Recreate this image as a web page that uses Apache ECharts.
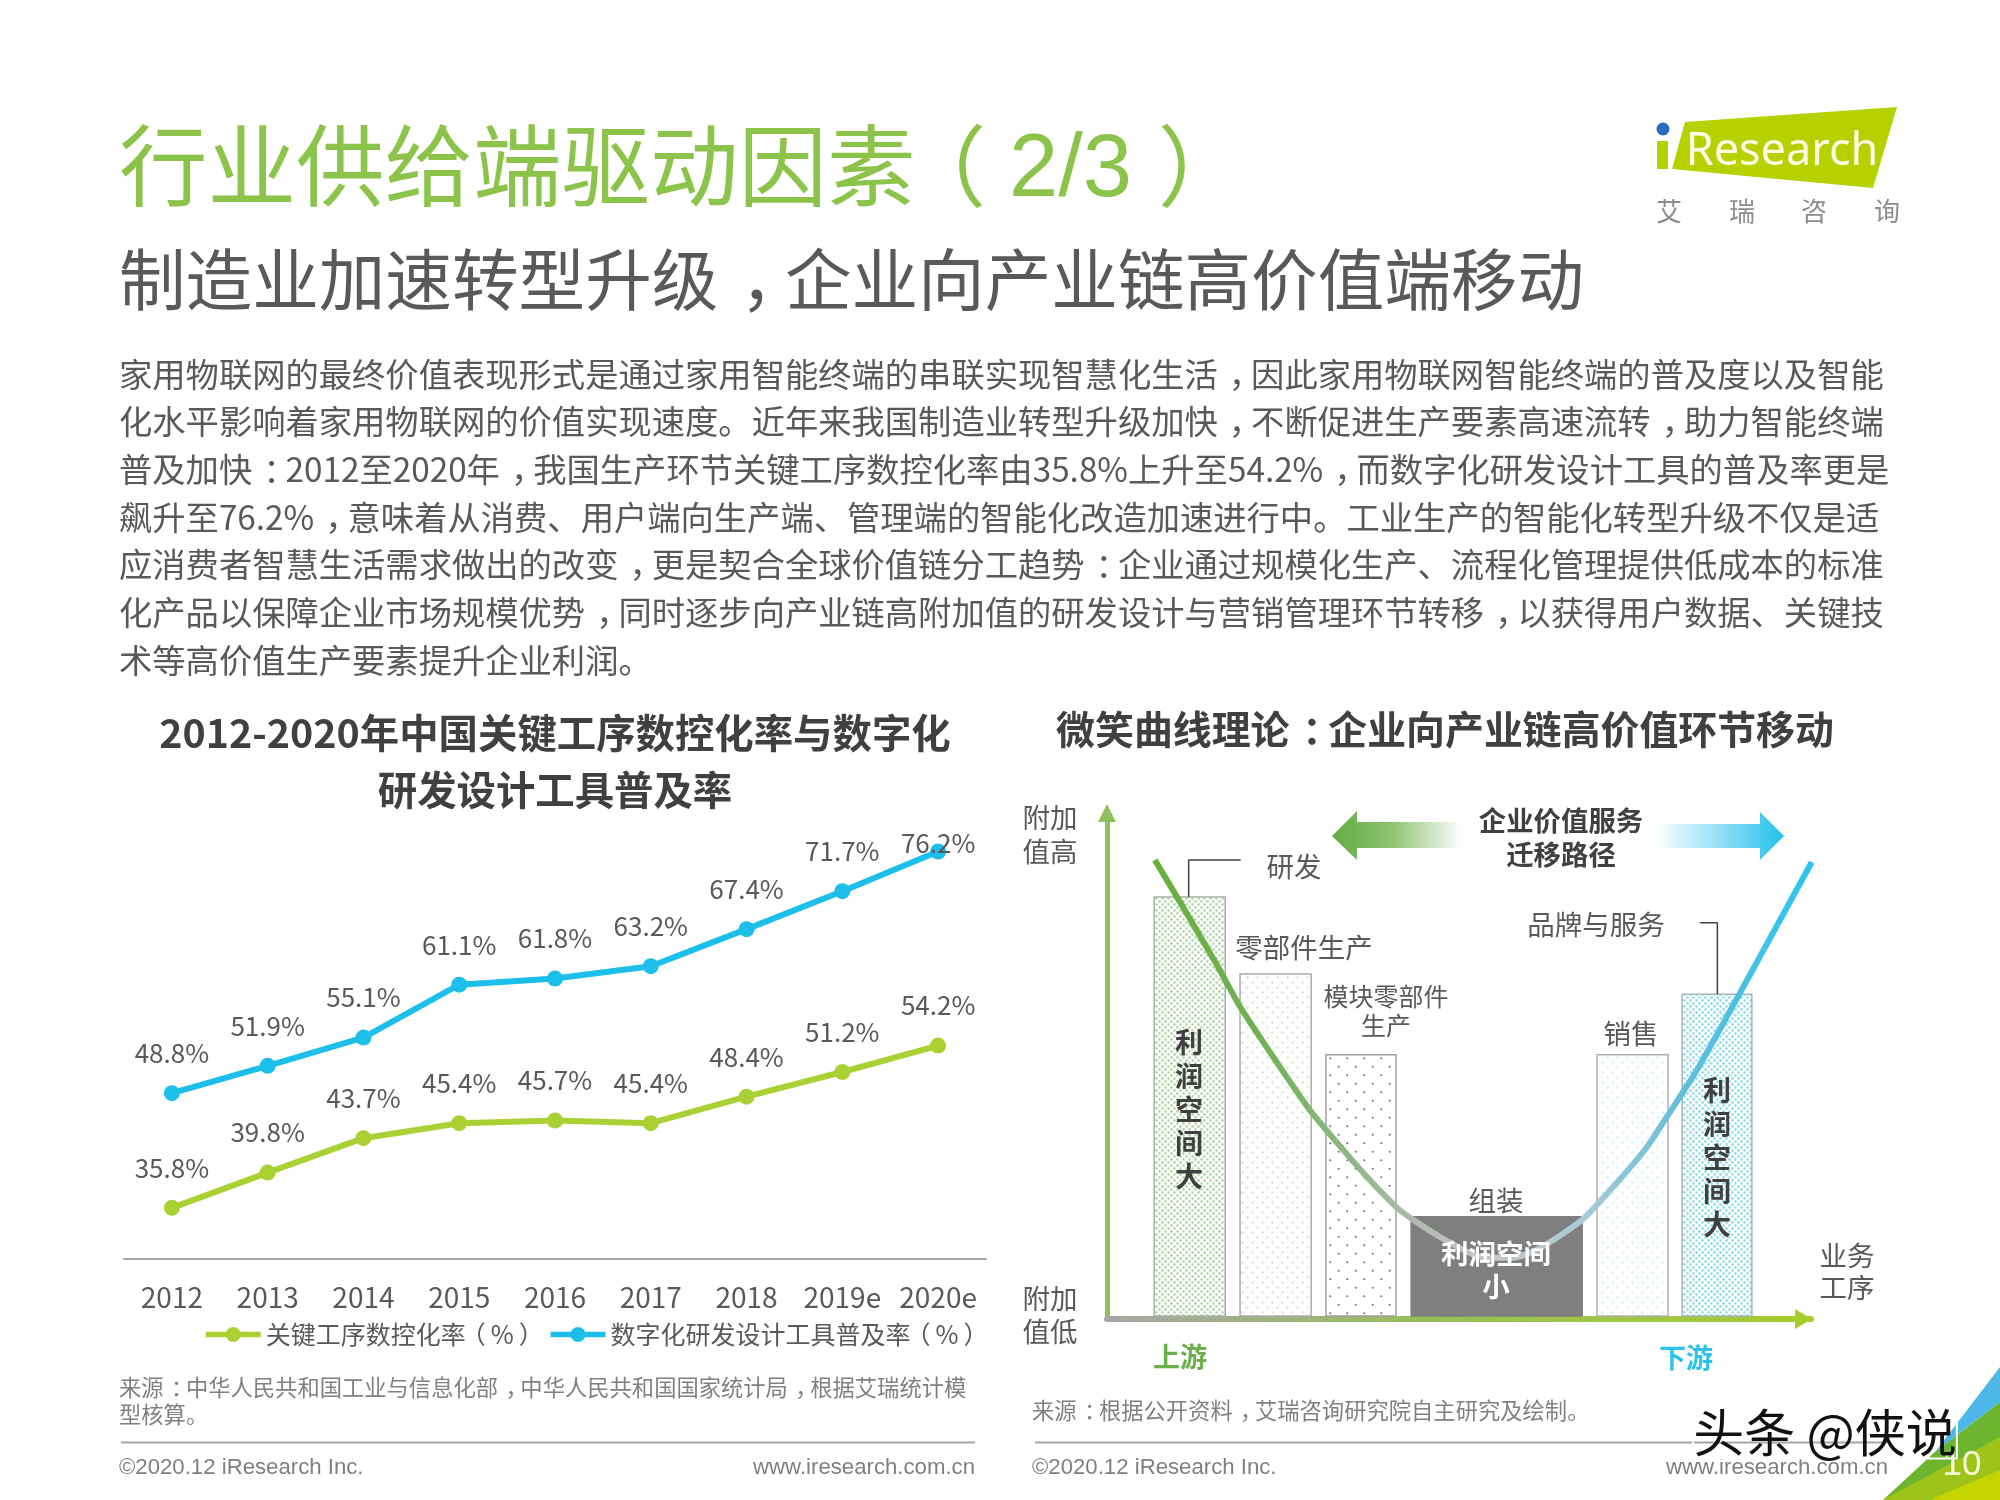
<!DOCTYPE html>
<html lang="zh-CN"><head><meta charset="utf-8"><title>行业供给端驱动因素</title>
<style>html,body{margin:0;padding:0;background:#fff}#c{width:2000px;height:1500px}</style>
<script src="https://cdn.jsdelivr.net/npm/echarts@6/dist/echarts.min.js"></script></head>
<body><div id="c"></div>
<script>
// ---- left chart data ----
const years = ['2012','2013','2014','2015','2016','2017','2018','2019e','2020e'];
const processRate = [35.8,39.8,43.7,45.4,45.7,45.4,48.4,51.2,54.2];
const designRate = [48.8,51.9,55.1,61.1,61.8,63.2,67.4,71.7,76.2];
const processName = '关键工序数控化率（%）';
const designName = '数字化研发设计工具普及率（%）';
// ---- smile curve data (index units, 0-100 on both axes) ----
const stageNames = ['研发','零部件生产','模块零部件生产','组装','销售','品牌与服务'];
const stageStart = [6.7,18.9,31.1,43.2,69.6,81.7];
const stageEnd = [16.8,29.0,41.05,67.5,79.7,91.6];
const stageValue = [83.4,68.2,52.2,20.2,52.2,64.2];
const curveX = [6.8,10.8,15.6,18.9,23.6,28.8,32.7,36.9,41.6,47.3,53.0,57.7,61.5,67.5,72.4,76.7,79.5,83.8,89.9,94.6,100.1];
const curveY = [90.7,81.4,70.0,61.7,51.8,41.3,34.8,28.1,21.5,16.2,12.3,12.1,14.0,19.6,26.9,34.0,39.9,49.2,64.4,76.3,90.3];
const leaderA = [[11.6,83.4],[11.6,90.7],[19.0,90.7]];
const leaderB = [[84.2,78.3],[86.7,78.3],[86.7,64.2]];
// ---- text ----
const bodyLines = [
'家用物联网的最终价值表现形式是通过家用智能终端的串联实现智慧化生活，因此家用物联网智能终端的普及度以及智能',
'化水平影响着家用物联网的价值实现速度。近年来我国制造业转型升级加快，不断促进生产要素高速流转，助力智能终端',
'普及加快：2012至2020年，我国生产环节关键工序数控化率由35.8%上升至54.2%，而数字化研发设计工具的普及率更是',
'飙升至76.2%，意味着从消费、用户端向生产端、管理端的智能化改造加速进行中。工业生产的智能化转型升级不仅是适',
'应消费者智慧生活需求做出的改变，更是契合全球价值链分工趋势：企业通过规模化生产、流程化管理提供低成本的标准',
'化产品以保障企业市场规模优势，同时逐步向产业链高附加值的研发设计与营销管理环节转移，以获得用户数据、关键技',
'术等高价值生产要素提升企业利润。'];

const CJK = '"Noto Sans CJK SC","Noto Sans",sans-serif';
const SANS = '"Liberation Sans",Arial,sans-serif';
const GREEN = '#A9D134', BLUE = '#1DBFEA';
// full-width punctuation sits mid-cell in the reference: keep the advance, shift the glyph
const punct = s => s.replace(/[，：]/g, m => '{p|' + m + '}').replace(/（/g,'{a|（}').replace(/）/g,'{b|）}');
function punctRich(size, weight, key, color){
  const mk = k => { const o = {fontFamily:CJK,fontSize:size,fontWeight:weight||'normal',padding:[0,-k*size,0,k*size]}; o[key]=color; return o; };
  return {p:mk(0.33),a:mk(-0.2),b:mk(0.2)};
}

function dots(period, r, color, stagger){
  const c = document.createElement('canvas');
  c.width = period; c.height = period;
  const g = c.getContext('2d');
  g.fillStyle = '#fff'; g.fillRect(0,0,period,period);
  g.fillStyle = color;
  const pts = stagger ? [[period/4,period/4],[period*3/4,period*3/4]] : [[period/2,period/2]];
  pts.forEach(p=>{g.beginPath();g.arc(p[0],p[1],r,0,Math.PI*2);g.fill();});
  return {image:c,repeat:'repeat'};
}
const fills = [
  dots(6,1.4,'#B7DAAE',true), dots(10,1.2,'#D6E6D2',true), dots(17,1.1,'#777777',true),
  '#7F7F7F', dots(10,1.2,'#D6EEF5',true), dots(6,1.4,'#9ADFEC',true)
];
const strokes = ['#A6B0A6','#AAAAAA','#A0A0A0','#7F7F7F','#B0B0B0','#A6B4BA'];

function T(text,x,y,size,color,extra){
  extra = extra || {};
  const s = punct(text);
  const style = Object.assign({text:s,fontSize:size,fontFamily:CJK,fill:color,align:'center',verticalAlign:'middle'},extra);
  if (s.indexOf('{') >= 0) {
    style.rich = Object.assign(punctRich(size,extra.fontWeight,'fill',color),extra.rich||{});
  }
  return {type:'text',z:50,silent:true,x:x,y:y,style:style};
}
function P(points,fill,z){return {type:'polygon',z:z||1,silent:true,shape:{points:points},style:{fill:fill}};}
function L(x1,x2,y){return {type:'line',z:1,silent:true,shape:{x1:x1,y1:y,x2:x2,y2:y},style:{stroke:'#A6A6A6',lineWidth:2}};}
const hGrad = (a,b,m)=>({type:'linear',x:0,y:0,x2:1,y2:0,colorStops:m?[{offset:0,color:a},{offset:m[0],color:m[1]},{offset:1,color:b}]:[{offset:0,color:a},{offset:1,color:b}]});

const G = [];
// heading
G.push(T('行业供给端驱动因素（{l|2/3}）',119,165,88.5,'#8CC34B',{align:'left',
  rich:{l:{fontFamily:SANS,fontSize:88.5,fill:'#8CC34B',padding:[13,8,0,5]}}}));
G.push(T('制造业加速转型升级，企业向产业链高价值端移动',119,280,66.6,'#595959',{align:'left'}));
const bodyY = [374,421,469,517,564.5,612.5,660.5];
bodyLines.forEach((s,i)=>G.push(T(s,119,bodyY[i],33.3,'#595959',{align:'left'})));
// logo
G.push(P([[1685,122],[1897,107],[1873,188],[1672,169]],'#B5D100'));
G.push({type:'rect',z:1,silent:true,shape:{x:1657,y:141,width:11,height:28},style:{fill:'#B5D100'}});
G.push({type:'circle',z:1,silent:true,shape:{cx:1663,cy:129,r:6.5},style:{fill:'#2A6EBB'}});
G.push(T('Research',1782,152,45,'#FDFDE8',{fontFamily:'"Noto Sans",sans-serif'}));
['艾','瑞','咨','询'].forEach((s,i)=>G.push(T(s,[1669,1742,1814,1887][i],211,26,'#8C8C8C')));
// left footer
G.push(T('来源：中华人民共和国工业与信息化部，中华人民共和国国家统计局，根据艾瑞统计模',119,1388,22.3,'#808080',{align:'left'}));
G.push(T('型核算。',119,1415,22.3,'#808080',{align:'left'}));
G.push(L(121,975,1442.5));
G.push(T('©2020.12 iResearch Inc.',119,1468,22.2,'#7F7F7F',{align:'left',fontFamily:SANS}));
G.push(T('www.iresearch.com.cn',975,1468,22.2,'#7F7F7F',{align:'right',fontFamily:SANS}));
// right footer
G.push(T('来源：根据公开资料，艾瑞咨询研究院自主研究及绘制。',1032,1411,22.3,'#808080',{align:'left'}));
G.push(L(1035,1890,1442.5));
G.push(T('©2020.12 iResearch Inc.',1032,1468,22.2,'#7F7F7F',{align:'left',fontFamily:SANS}));
G.push(T('www.iresearch.com.cn',1888,1468,22.2,'#7F7F7F',{align:'right',fontFamily:SANS}));
// right chart annotations
const lab = '#595959';
G.push(T('附加\n值高',1050,835,27.5,lab,{lineHeight:34}));
G.push(T('附加\n值低',1050,1315,27.5,lab,{lineHeight:33}));
G.push(T('业务\n工序',1847,1272,27.5,lab,{lineHeight:32}));
G.push(T(stageNames[0],1294,867,27.5,lab));
G.push(T(stageNames[1],1304,948,27.5,lab));
G.push(T('模块零部件\n生产',1386,1011,25,lab,{lineHeight:29}));
G.push(T(stageNames[3],1496,1201,27.5,lab));
G.push(T(stageNames[4],1631,1034,27.5,lab));
G.push(T(stageNames[5],1596,925,27.5,lab));
G.push(T('利润空间\n小',1496,1270,27.5,'#FFFFFF',{fontWeight:'bold',lineHeight:33}));
G.push(T('利\n润\n空\n间\n大',1189,1109.5,28,'#404040',{fontWeight:'bold',lineHeight:33.6}));
G.push(T('利\n润\n空\n间\n大',1717,1157.5,28,'#404040',{fontWeight:'bold',lineHeight:33.4}));
G.push(T('上游',1180,1357,27,'#6AB04A',{fontWeight:'bold'}));
G.push(T('下游',1686,1358,27,'#29C3EC',{fontWeight:'bold'}));
// migration arrows
G.push(P([[1332,836],[1357,811],[1357,822],[1462,822],[1462,848],[1357,848],[1357,860]],hGrad('#62AC43','#FFFFFF',[0.45,'#8CC270'])));
G.push(P([[1655,824],[1760,824],[1760,812],[1784,836],[1760,860],[1760,848],[1655,848]],hGrad('#FFFFFF','#22C0EC',[0.55,'#88DDF4'])));
G.push(T('企业价值服务\n迁移路径',1561,838,27.4,'#404040',{fontWeight:'bold',lineHeight:34}));
// x-axis arrow head
G.push(P([[1795,1309],[1812,1319],[1795,1329]],'#A5CC2B',3));
// corner
G.push(P([[2000,1367],[1935,1452],[2000,1402]],'#4DB8E8',2));
G.push(P([[2000,1402],[1935,1452],[1883,1500],[2000,1500]],'#6DB52E',2));
G.push(P([[2000,1437],[1883,1500],[2000,1500]],'#9CC41A',2));
G.push(P([[2000,1470],[1930,1500],[2000,1500]],'#C6D400',2));
G.push(T('10',1962,1465,35,'#F6F8D8',{fontFamily:SANS}));
// watermark
G.push(T('头条 @侠说',1825,1433,51,'#111111',{textBorderColor:'#FFFFFF',textBorderWidth:2}));

const option = {
  animation:false, backgroundColor:'#fff',
  textStyle:{fontFamily:CJK},
  title:[
    {text:'2012-2020年中国关键工序数控化率与数字化\n研发设计工具普及率',left:550,top:757,textAlign:'center',textVerticalAlign:'middle',
     textStyle:{fontFamily:CJK,fontSize:39.4,fontWeight:'bold',color:'#404040',lineHeight:57}},
    {text:punct('微笑曲线理论：企业向产业链高价值环节移动'),left:1440,top:724,textAlign:'center',textVerticalAlign:'middle',
     textStyle:{fontFamily:CJK,fontSize:38.9,fontWeight:'bold',color:'#404040',
       rich:punctRich(38.9,'bold','color','#404040')}}
  ],
  legend:{data:[processName,designName],left:203,top:1322,padding:0,itemWidth:55,itemHeight:19,itemGap:4,
    lineStyle:{width:5.5},
    formatter:name=>punct(name),
    textStyle:{fontFamily:CJK,fontSize:25,color:'#595959',rich:punctRich(25,'normal','color','#595959')}},
  grid:[
    {left:124,top:818,width:862,height:441},
    {left:1107,top:813,width:704,height:506}
  ],
  xAxis:[
    {gridIndex:0,type:'category',data:years,axisTick:{show:false},
     axisLine:{lineStyle:{color:'#A6A6A6',width:2}},
     axisLabel:{fontFamily:CJK,fontSize:28,color:'#595959',margin:24,interval:0}},
    {gridIndex:1,type:'value',min:0,max:100,splitLine:{show:false},axisTick:{show:false},axisLabel:{show:false},
     axisLine:{onZero:false,lineStyle:{width:6,color:hGrad('#A6A6A6','#A5CC2B',[0.45,'#98BE5A'])}}}
  ],
  yAxis:[
    {gridIndex:0,type:'value',min:30,max:80,show:false},
    {gridIndex:1,type:'value',min:0,max:100,splitLine:{show:false},axisTick:{show:false},axisLabel:{show:false},
     axisLine:{onZero:false,symbol:['none','triangle'],symbolSize:[18,18],lineStyle:{width:5,color:'#8FBE5C'}}}
  ],
  series:[
    {name:processName,type:'line',xAxisIndex:0,yAxisIndex:0,data:processRate,symbol:'circle',symbolSize:16,
     lineStyle:{width:6,color:GREEN},itemStyle:{color:GREEN},
     label:{show:true,position:'top',distance:19,formatter:p=>p.value.toFixed(1)+'%',fontFamily:CJK,fontSize:26,color:'#595959'}},
    {name:designName,type:'line',xAxisIndex:0,yAxisIndex:0,
     data:designRate.map((v,i)=>i===designRate.length-1?{value:v,label:{offset:[0,32]}}:v),symbol:'circle',symbolSize:16,
     lineStyle:{width:6,color:BLUE},itemStyle:{color:BLUE},
     label:{show:true,position:'top',distance:19,formatter:p=>p.value.toFixed(1)+'%',fontFamily:CJK,fontSize:26,color:'#595959'}},
    {name:'工序环节',type:'custom',xAxisIndex:1,yAxisIndex:1,z:1,clip:false,
     data:stageStart.map((s,i)=>[s,stageEnd[i],stageValue[i]]),encode:{x:[0,1],y:2},
     renderItem:(params,api)=>{
       const a = api.coord([api.value(0),api.value(2)]), b = api.coord([api.value(1),0]);
       return {type:'rect',shape:{x:a[0],y:a[1],width:b[0]-a[0],height:b[1]-a[1]-3},
         style:{fill:fills[params.dataIndex],stroke:strokes[params.dataIndex],lineWidth:1.5}};
     }},
    {name:'研发引线',type:'line',xAxisIndex:1,yAxisIndex:1,z:3,data:leaderA,symbol:'none',lineStyle:{color:'#404040',width:1.5}},
    {name:'品牌引线',type:'line',xAxisIndex:1,yAxisIndex:1,z:3,data:leaderB,symbol:'none',lineStyle:{color:'#404040',width:1.5}},
    {name:'微笑曲线',type:'line',xAxisIndex:1,yAxisIndex:1,z:4,clip:false,smooth:0.2,smoothMonotone:'none',symbol:'none',
     data:curveX.map((x,i)=>[x,curveY[i]]),
     lineStyle:{width:6,color:{type:'linear',x:0,y:0,x2:1,y2:0,colorStops:[
       {offset:0,color:'#68B03D'},{offset:0.15,color:'#70AF52'},{offset:0.3,color:'#8DB885'},
       {offset:0.42,color:'#B5BDB5'},{offset:0.52,color:'#C4C8C8'},{offset:0.65,color:'#A9CAD6'},
       {offset:0.8,color:'#62BFDA'},{offset:1,color:'#2AC4EE'}]}}}
  ],
  graphic:{elements:G}
};
const chart = echarts.init(document.getElementById('c'),null,{renderer:'canvas',width:2000,height:1500});
chart.setOption(option);
</script></body></html>
